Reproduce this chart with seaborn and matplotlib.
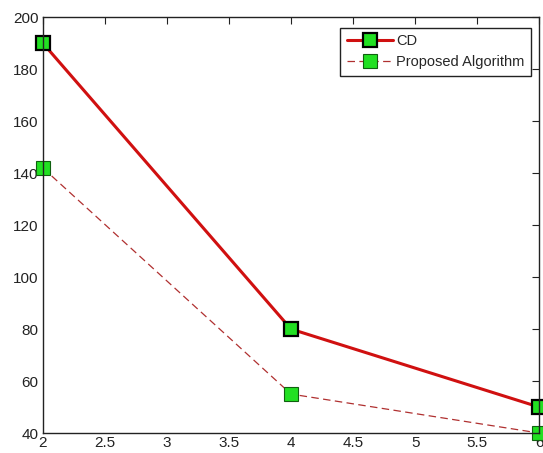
import numpy as np
import pandas as pd
import matplotlib
matplotlib.use('Agg')
import matplotlib.pyplot as plt
import seaborn as sns

# Data
x_vals = [2, 4, 6]
cd_vals = [190, 80, 50]
proposed_vals = [142, 55, 40]
x_ticks = [2, 2.5, 3, 3.5, 4, 4.5, 5, 5.5, 6]
y_ticks = [40, 60, 80, 100, 120, 140, 160, 180, 200]

sns.set_style('white')
plt.rcParams['font.family'] = ['Liberation Sans', 'DejaVu Sans']

fig = plt.figure(figsize=(5.43, 4.53), dpi=100)
ax = fig.add_axes([0.079, 0.044, 0.914, 0.918])

# CD series
sns.lineplot(x=x_vals, y=cd_vals, ax=ax, color='#d01010', linewidth=2.2,
             marker='s', markersize=10, markerfacecolor='#22e022',
             markeredgecolor='black', markeredgewidth=1.6, label='CD',
             clip_on=False)

# Proposed algorithm series
sns.lineplot(x=x_vals, y=proposed_vals, ax=ax, color='#b03030', linewidth=0.9,
             linestyle=(0, (6, 3.5)), marker='s', markersize=10,
             markerfacecolor='#22e022', markeredgecolor='#106010',
             markeredgewidth=0.8, label='Proposed Algorithm', clip_on=False)

ax.set_xlim(2, 6)
ax.set_ylim(40, 200)
ax.set_xticks(x_ticks)
ax.set_xticklabels(['2', '2.5', '3', '3.5', '4', '4.5', '5', '5.5', '6'])
ax.set_yticks(y_ticks)
ax.tick_params(direction='in', length=5, width=0.8, top=True, right=True,
               labelsize=11, colors='#222222')
ax.tick_params(axis='x', pad=2)
ax.tick_params(axis='y', pad=3)
for s in ax.spines.values():
    s.set_color('#222222')
    s.set_linewidth(1.0)
ax.set_xlabel('')
ax.set_ylabel('')

leg = ax.legend(loc='upper right', bbox_to_anchor=(0.99, 0.982), fontsize=10.5,
                fancybox=False, framealpha=1, edgecolor='#222222',
                handlelength=3.2, borderpad=0.45, labelspacing=0.5,
                handletextpad=0.2, borderaxespad=0.2)
leg.get_frame().set_linewidth(1.0)

fig.savefig('out.png', dpi=100)
